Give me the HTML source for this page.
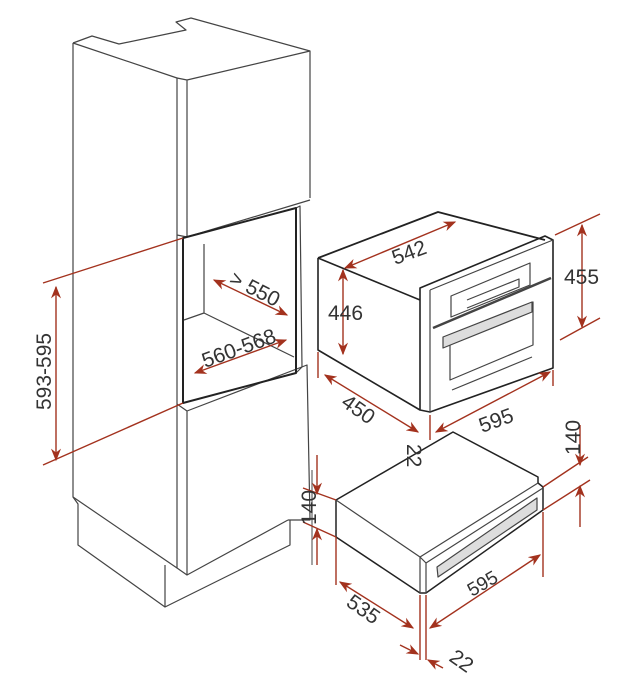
<!DOCTYPE html><html><head><style>html,body{margin:0;padding:0;background:#fff}svg{display:block}</style></head><body>
<svg width="625" height="685" viewBox="0 0 625 685" xmlns="http://www.w3.org/2000/svg" font-family="Liberation Sans, sans-serif">
<defs><marker id="a" viewBox="0 0 10 10" refX="9" refY="5" markerWidth="9" markerHeight="9" orient="auto-start-reverse"><path d="M0,1 L10,5 L0,9 L3,5z" fill="#a3321e"/></marker></defs>
<g fill="none" stroke="#444" stroke-width="1.2" stroke-linejoin="round">
<path d="M73,43 L92,36 L119,44 L186,30 L176,22 L191,18 L310,51 L310,198"/>
<path d="M73,43 L73,497 L78,504 L78,545 L165,607 L290,545 L290,520"/>
<path d="M165,565 L165,607"/>
<path d="M73,43 L177,78 L177,568 L73,497"/>
<path d="M177,78 L187,80 L310,51 M187,80 L187,237 L310,200 M177,235 L187,237"/>
<path d="M177,404 L187,411 L187,575 L288,520 M187,411 L307,365 L310,520 L288,520"/>
<path d="M177,568 L187,575"/>
<path d="M204,244 L204,313 L184,320 M204,313 L294,357"/>
<path d="M296,208 L300,206 L302,367 L296,373"/>
<path d="M183,238 L296,208 L296,373 L183,403 Z" stroke="#222" stroke-width="2"/>
<path d="M318,258 L438,212 L545,240" stroke="#222" stroke-width="1.8"/>
<path d="M318,258 L318,350 L420,410 L430,412 L553,368 L553,240 L545,236 L420,288 L420,410 M318,258 L420,300" stroke="#222" stroke-width="1.6"/>
<path d="M430,290 L553,240 M430,290 L430,412"/>
<path d="M451,296 L530,263 L530,285 L451,317 Z M467,300 L519,279 L519,287 L467,308"/>
<path d="M433,328 L551,278" stroke-width="2.5"/>
<path d="M450,335 L533,302 L533,345 L450,380 Z M452,390 L532,357"/>
<path d="M443,337 L532,302 L532,312 L443,348 Z" fill="#ddd"/>
<!-- drawer -->
<path d="M336,500 L453,432 L538,477 L538,483 L543,487 L543,510 L426,593 L420,593 L336,537 Z" stroke="#222" stroke-width="1.5"/>
<path d="M336,500 L420,557 L538,483 M420,557 L420,593 M426,563 L543,488 M426,563 L426,593 M420,557 L426,563"/>
<path d="M437,567 L537,498 L537,510 L438,577 Z" fill="#ddd"/>
<path d="M312,470 L312,565" stroke="#666"/>
</g>
<g stroke="#a3321e" stroke-width="1.4" fill="none">
<path d="M43,283 L183,238 M43,465 L183,403"/>
<path d="M56,287 L56,460" marker-start="url(#a)" marker-end="url(#a)"/>
<path d="M214,280 L287,315" marker-start="url(#a)" marker-end="url(#a)"/>
<path d="M195,373 L286,340" marker-start="url(#a)" marker-end="url(#a)"/>
<path d="M345,268 L455,222" marker-start="url(#a)" marker-end="url(#a)"/>
<path d="M343,270 L343,354" marker-start="url(#a)" marker-end="url(#a)"/>
<path d="M555,235 L600,214 M560,340 L600,318"/>
<path d="M582,225 L582,327" marker-start="url(#a)" marker-end="url(#a)"/>
<path d="M318,352 L318,378 M553,370 L553,386 M430,415 L430,440"/>
<path d="M325,375 L418,432" marker-start="url(#a)" marker-end="url(#a)"/>
<path d="M436,432 L550,372" marker-start="url(#a)" marker-end="url(#a)"/>
<path d="M303,488 L336,500 M303,522 L336,537"/>
<path d="M317,455 L317,494" marker-end="url(#a)"/>
<path d="M317,565 L317,529" marker-end="url(#a)"/>
<path d="M543,487 L588,457 M543,510 L590,480"/>
<path d="M580,425 L580,465" marker-end="url(#a)"/>
<path d="M580,527 L580,486" marker-end="url(#a)"/>
<path d="M336,537 L336,585 M420,595 L420,660 M426,595 L426,660 M543,512 L543,577"/>
<path d="M340,582 L413,628" marker-start="url(#a)" marker-end="url(#a)"/>
<path d="M430,628 L540,555" marker-start="url(#a)" marker-end="url(#a)"/>
<path d="M400,645 L418,654" marker-end="url(#a)"/>
<path d="M443,668 L428,660" marker-end="url(#a)"/>
</g>
<g fill="#333" font-size="21">
<text transform="translate(51,410) rotate(-90)">593-595</text>
<text transform="translate(228,283) rotate(27)">&gt; 550</text>
<text transform="translate(205,368) rotate(-20)">560-568</text>
<text transform="translate(395,265) rotate(-20)">542</text>
<text x="328" y="320">446</text>
<text x="564" y="284">455</text>
<text transform="translate(340,405) rotate(35)">450</text>
<text transform="translate(482,433) rotate(-20)">595</text>
<text transform="translate(407,444) rotate(90)">22</text>
<text transform="translate(580,455) rotate(-90)">140</text>
<text transform="translate(316,525) rotate(-90)">140</text>
<text transform="translate(472,597) rotate(-30)" font-size="19">595</text>
<text transform="translate(345,605) rotate(35)">535</text>
<text transform="translate(448,660) rotate(35)">22</text>
</g>
</svg>
</body></html>
